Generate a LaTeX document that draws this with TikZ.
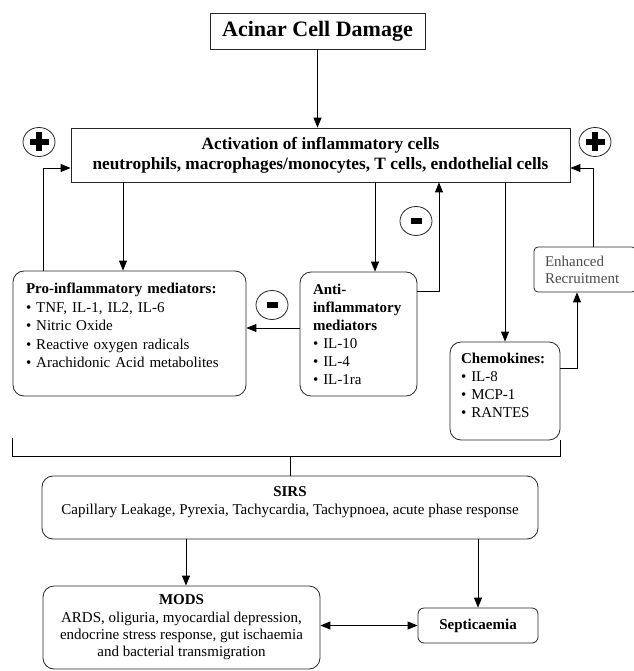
\documentclass[tikz,border=0pt]{standalone}
\usepackage{fontspec}
\setmainfont{Liberation Serif}
\usetikzlibrary{arrows.meta,positioning,shapes.geometric}
\newcommand{\dropline}[1]{\rule[-#1]{0pt}{0pt}}

\begin{document}
\begin{tikzpicture}[x=1pt, y=-1pt,
  box/.style={rectangle, draw=black!85, line width=0.8pt, inner sep=0pt, align=center, font=\fontsize{15}{18}\selectfont},
  rbox/.style={box, rounded corners=11pt},
  list/.style={rbox, align=left, inner xsep=13pt},
  line/.style={line width=0.9pt},
  arrow/.style={line, -{Triangle[length=10pt,width=8pt]}},
  twoway/.style={line, {Triangle[length=10pt,width=8pt]}-{Triangle[length=10pt,width=8pt]}},
  sign/.style={ellipse, draw=black!85, line width=0.8pt, minimum width=32pt, minimum height=29pt, inner sep=0pt},
  plus/.style={sign, path picture={
    \fill ([xshift=-9.5pt,yshift=-3.25pt]path picture bounding box.center) rectangle ++(19pt,6.5pt);
    \fill ([xshift=-3.25pt,yshift=-9.5pt]path picture bounding box.center) rectangle ++(6.5pt,19pt);}},
  minus/.style={sign, path picture={
    \fill ([xshift=-5.5pt,yshift=-3pt]path picture bounding box.center) rectangle ++(11pt,6pt);}}
]
  \useasboundingbox (0,0) rectangle (633,671);

  % top of the cascade
  \node[box, minimum width=215, minimum height=36, font=\fontsize{22}{26}\selectfont\bfseries] (acinar) at (317.5,31) {Acinar Cell Damage};
  \node[box, minimum width=499, minimum height=54, font=\fontsize{17.3}{20}\selectfont\bfseries] (act) at (320.5,155) {Activation of inflammatory cells\\neutrophils, macrophages/monocytes, T cells, endothelial cells};

  % mediators
  \node[list, minimum width=233, minimum height=125, text width=207, font=\fontsize{15}{18.5}\selectfont] (pro) at (129.5,333.5) {\textbf{Pro-inflammatory mediators:}\\\textbullet\ TNF, IL-1, IL2, IL-6\\\textbullet\ Nitric Oxide\\\textbullet\ Reactive oxygen radicals\\\textbullet\ Arachidonic Acid metabolites\dropline{16pt}};
  \node[list, minimum width=117, minimum height=124, text width=91] (anti) at (358.5,334) {\textbf{Anti-}\\\textbf{inflammatory}\\\textbf{mediators}\\\textbullet\ IL-10\\\textbullet\ IL-4\\\textbullet\ IL-1ra};
  \node[list, minimum width=110, minimum height=98, text width=88, inner xsep=11pt] (chem) at (505,391) {\textbf{Chemokines:}\\\textbullet\ IL-8\\\textbullet\ MCP-1\\\textbullet\ RANTES\dropline{12pt}};
  \node[box, rounded corners=4pt, align=left, minimum width=94, minimum height=45, text width=80, inner xsep=11pt, text=black!70, font=\fontsize{15}{17}\selectfont] (enh) at (585,269.5) {Enhanced\\Recruitment};

  % feedback signs
  \node[plus] (plusL) at (39,142) {};
  \node[plus] (plusR) at (595,142) {};
  \node[minus] (minusA) at (416,221) {};
  \node[minus] (minusP) at (272,305) {};

  % systemic response
  \node[rbox, minimum width=496, minimum height=63] (sirs) at (290,507.5) {\textbf{SIRS}\\Capillary Leakage, Pyrexia, Tachycardia, Tachypnoea, acute phase response\dropline{14pt}};
  \node[rbox, minimum width=277, minimum height=83, font=\fontsize{15}{17.3}\selectfont] (mods) at (181.5,627.5) {\textbf{MODS}\\ARDS, oliguria, myocardial depression,\\endocrine stress response, gut ischaemia\\and bacterial transmigration};
  \node[box, rounded corners=6pt, minimum width=120, minimum height=35, font=\fontsize{15}{18}\selectfont\bfseries] (sept) at (478,625.5) {Septicaemia};

  % connectors
  \draw[arrow] (acinar.south) -- (acinar.south |- act.north);
  \draw[arrow] ([xshift=-6.5]pro.north |- act.south) -- ([xshift=-6.5]pro.north);
  \draw[arrow] ([xshift=16.5]anti.north |- act.south) -- ([xshift=16.5]anti.north);
  \draw[arrow] (chem.north |- act.south) -- (chem.north);
  \draw[arrow] ([yshift=43]anti.east) -| ([xshift=118.5]act.south);
  \draw[arrow] ([yshift=6]anti.west) -- ([yshift=6]anti.west -| pro.east);
  \draw[arrow] ([xshift=31]pro.north west) |- ([yshift=-13]act.west);
  \draw[arrow] ([yshift=23]chem.east) -| ([xshift=-8]enh.south);
  \draw[arrow] ([xshift=8]enh.north) |- ([yshift=-13]act.east);

  \draw[line] ([yshift=-42]pro.south west) |- ([yshift=-16]chem.south east) -- (chem.south east);
  \draw[line] (sirs.north) -- ++(0,-20);
  \draw[arrow] ([xshift=4.5]mods.north |- sirs.south) -- ([xshift=4.5]mods.north);
  \draw[arrow] (sept.north |- sirs.south) -- (sept.north);
  \draw[twoway] (mods.east |- sept.west) -- (sept.west);
\end{tikzpicture}
\end{document}
